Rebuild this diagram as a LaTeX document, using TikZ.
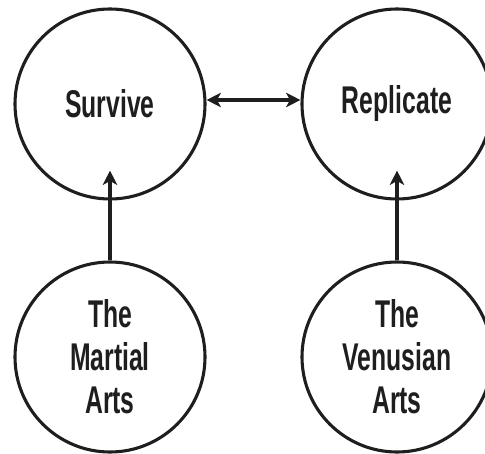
\documentclass[tikz,border=0pt]{standalone}
\usepackage{fontspec}
\setmainfont{Liberation Sans}[FakeStretch=0.64]
\usepackage{tikz}
\usetikzlibrary{arrows.meta, positioning, calc}
\definecolor{inkblack}{RGB}{30, 30, 30}

\tikzset{
  goal/.style={draw=inkblack, line width=2.2pt, circle, minimum size=4.75cm, inner sep=0pt,
    align=center, text=inkblack, font=\bfseries\fontsize{27.5}{30.5}\selectfont},
  link/.style={draw=inkblack, line width=2.2pt, -{Stealth[length=3.6mm, width=3.6mm, inset=1mm]}},
}

\begin{document}
\begin{tikzpicture}
  \useasboundingbox (0, 0) rectangle (12.125, -11.35);

  % The two aims
  \node[goal] (survive) at (2.75, -2.6) {Survive};
  \node[goal] (replicate) at (9.925, -2.6) {Replicate};

  % The two arts
  \node[goal] (martial) at (2.75, -8.925) {The\\Martial\\Arts};
  \node[goal] (venusian) at (9.925, -8.925) {The\\Venusian\\Arts};

  % Arrows
  \coordinate (survive-in) at ([yshift=0.75cm]survive.south);
  \coordinate (replicate-in) at ([yshift=0.75cm]replicate.south);
  \draw[link, {Stealth[length=3.6mm, width=3.6mm, inset=1mm]}-{Stealth[length=3.6mm, width=3.6mm, inset=1mm]}]
    ([yshift=0.1cm]survive.east) -- ([yshift=0.1cm]replicate.west);
  \draw[link] (martial.north) -- (survive-in);
  \draw[link] (venusian.north) -- (replicate-in);
\end{tikzpicture}
\end{document}
